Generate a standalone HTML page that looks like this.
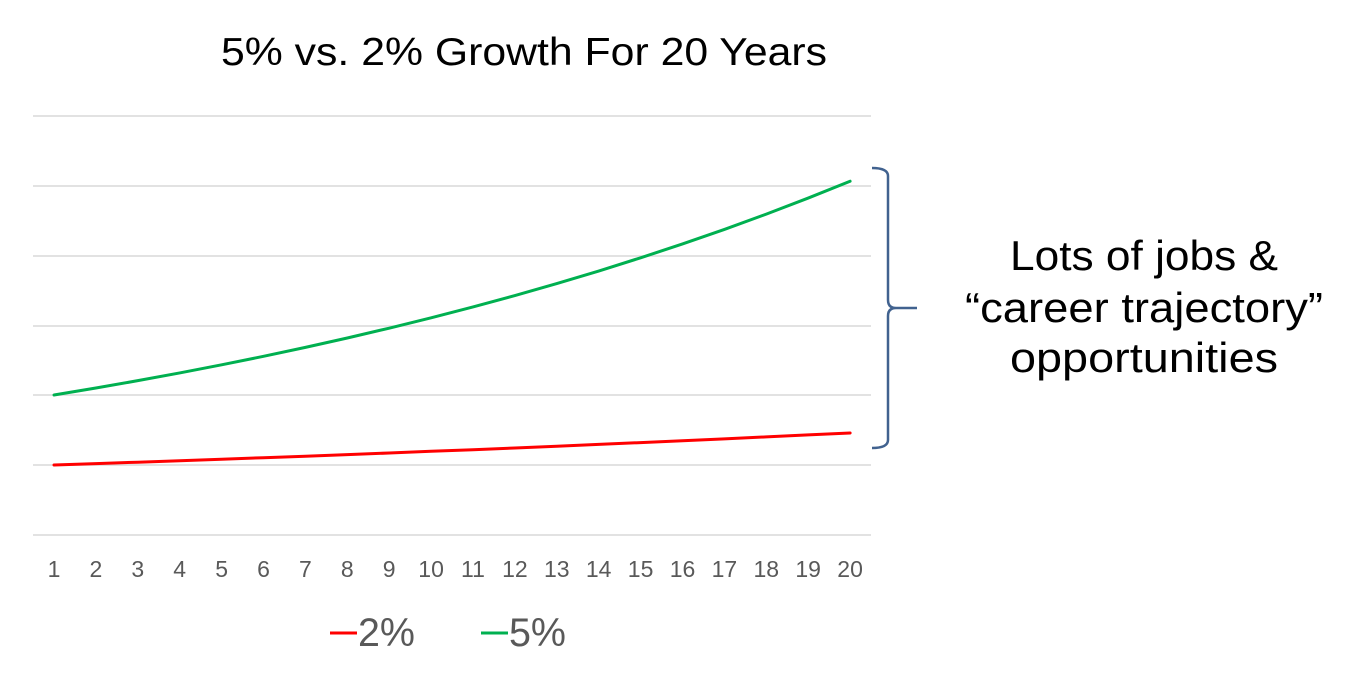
<!DOCTYPE html>
<html>
<head>
<meta charset="utf-8">
<style>
  html, body { margin: 0; padding: 0; background: #ffffff; }
  body { width: 1359px; height: 680px; overflow: hidden; }
  svg { display: block; }
  text { font-family: "Liberation Sans", "DejaVu Sans", sans-serif; }
</style>
</head>
<body>
<svg width="1359" height="680" viewBox="0 0 1359 680" xmlns="http://www.w3.org/2000/svg">
  <rect width="1359" height="680" fill="#ffffff"/>

  <!-- Title -->
  <text x="221" y="65" font-size="39" fill="#000000" textLength="606" lengthAdjust="spacingAndGlyphs">5% vs. 2% Growth For 20 Years</text>

  <!-- Gridlines -->
  <g stroke="#d9d9d9" stroke-width="1.5">
    <line x1="33" y1="116" x2="871" y2="116"/>
    <line x1="33" y1="186" x2="871" y2="186"/>
    <line x1="33" y1="256" x2="871" y2="256"/>
    <line x1="33" y1="326" x2="871" y2="326"/>
    <line x1="33" y1="395" x2="871" y2="395"/>
    <line x1="33" y1="465" x2="871" y2="465"/>
    <line x1="33" y1="535" x2="871" y2="535"/>
  </g>

  <!-- Series -->
  <polyline fill="none" stroke="#ff0000" stroke-width="3" stroke-linejoin="round" stroke-linecap="round"
    points="54.0,465.0 95.9,463.6 137.8,462.2 179.7,460.7 221.6,459.2 263.5,457.7 305.4,456.2 347.3,454.6 389.2,453.0 431.1,451.3 473.0,449.7 514.9,448.0 556.8,446.2 598.7,444.4 640.6,442.6 682.5,440.8 724.4,438.9 766.3,436.9 808.2,434.9 850.1,433.0"/>
  <polyline fill="none" stroke="#00b050" stroke-width="3" stroke-linejoin="round" stroke-linecap="round"
    points="54.0,395.0 95.9,388.0 137.8,380.65 179.7,372.93 221.6,364.83 263.5,356.32 305.4,347.39 347.3,338.01 389.2,328.16 431.1,317.81 473.0,306.95 514.9,295.55 556.8,283.58 598.7,271.01 640.6,257.81 682.5,243.95 724.4,229.40 766.3,214.12 808.2,198.07 850.1,181.23"/>

  <!-- X axis labels -->
  <g font-size="23" fill="#595959" text-anchor="middle">
    <text x="54.0" y="577">1</text>
    <text x="95.9" y="577">2</text>
    <text x="137.8" y="577">3</text>
    <text x="179.7" y="577">4</text>
    <text x="221.6" y="577">5</text>
    <text x="263.5" y="577">6</text>
    <text x="305.4" y="577">7</text>
    <text x="347.3" y="577">8</text>
    <text x="389.2" y="577">9</text>
    <text x="431.1" y="577">10</text>
    <text x="473.0" y="577">11</text>
    <text x="514.9" y="577">12</text>
    <text x="556.8" y="577">13</text>
    <text x="598.7" y="577">14</text>
    <text x="640.6" y="577">15</text>
    <text x="682.5" y="577">16</text>
    <text x="724.4" y="577">17</text>
    <text x="766.3" y="577">18</text>
    <text x="808.2" y="577">19</text>
    <text x="850.1" y="577">20</text>
  </g>

  <!-- Legend -->
  <line x1="330" y1="633" x2="357" y2="633" stroke="#ff0000" stroke-width="3"/>
  <text x="358" y="646" font-size="40" fill="#595959" textLength="57" lengthAdjust="spacingAndGlyphs">2%</text>
  <line x1="481" y1="633" x2="508" y2="633" stroke="#00b050" stroke-width="3"/>
  <text x="509" y="646" font-size="40" fill="#595959" textLength="57" lengthAdjust="spacingAndGlyphs">5%</text>

  <!-- Brace -->
  <path d="M872,168 Q888,168 888,176 L888,300 Q888,308 896,308 L917,308 M896,308 Q888,308 888,316 L888,440 Q888,448 872,448"
        fill="none" stroke="#41628f" stroke-width="2.5"/>

  <!-- Annotation -->
  <g font-size="42" fill="#000000">
    <text x="1010" y="270" textLength="268" lengthAdjust="spacingAndGlyphs">Lots of jobs &amp;</text>
    <text x="965" y="322" textLength="358" lengthAdjust="spacingAndGlyphs">“career trajectory”</text>
    <text x="1010" y="372" textLength="268" lengthAdjust="spacingAndGlyphs">opportunities</text>
  </g>
</svg>
</body>
</html>
